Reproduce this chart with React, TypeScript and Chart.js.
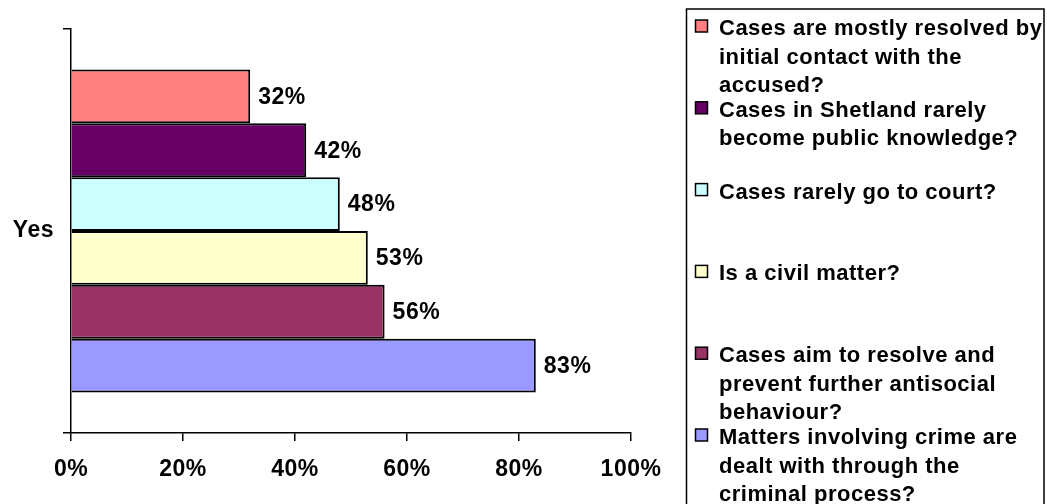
import React, { useEffect, useRef } from 'react';
import { Chart, registerables } from 'chart.js';

Chart.register(...registerables);

const categories = ['Yes'];
const seriesLabels: string[][] = [
  ['Cases are mostly resolved by', 'initial contact with the', 'accused?'],
  ['Cases in Shetland rarely', 'become public knowledge?'],
  ['Cases rarely go to court?'],
  ['Is a civil matter?'],
  ['Cases aim to resolve and', 'prevent further antisocial', 'behaviour?'],
  ['Matters involving crime are', 'dealt with through the', 'criminal process?'],
];
const seriesValues = [32, 42, 48, 53, 56, 83];
const seriesColors = ['#FF8080', '#660066', '#CCFFFF', '#FFFFCC', '#993366', '#9999FF'];
const xTicks = [0, 20, 40, 60, 80, 100];

const FONT = '"Liberation Sans", Arial, Helvetica, sans-serif';
const TICK_SIZE = 23;
const LABEL_SIZE = 23;
const LEGEND_SIZE = 22;
const SPACING = '0.5px';

const spacingPlugin = {
  id: 'spacing',
  beforeUpdate(chart: any) {
    chart.ctx.letterSpacing = SPACING;
  },
  beforeDraw(chart: any) {
    chart.ctx.letterSpacing = SPACING;
  },
};

const valueLabelPlugin = {
  id: 'valueLabels',
  afterDatasetsDraw(chart: any) {
    const ctx = chart.ctx;
    ctx.save();
    ctx.letterSpacing = SPACING;
    ctx.font = `bold ${LABEL_SIZE}px ${FONT}`;
    ctx.fillStyle = '#000';
    ctx.textAlign = 'left';
    ctx.textBaseline = 'middle';
    chart.data.datasets.forEach((ds: any, i: number) => {
      const meta = chart.getDatasetMeta(i);
      meta.data.forEach((el: any, j: number) => {
        ctx.fillText(`${ds.data[j]}%`, el.x + 8, el.y + 1);
      });
    });
    ctx.restore();
  },
};

const boxLegendPlugin = {
  id: 'boxLegend',
  afterDraw(chart: any) {
    const ctx = chart.ctx;
    ctx.save();
    ctx.letterSpacing = SPACING;
    ctx.strokeStyle = '#000';
    ctx.lineWidth = 1.5;
    ctx.strokeRect(686.5, 9, 357.5, 520);
    const boxX = 695.5;
    const textX = 719;
    const firstTop = 20;
    const pitch = 81.8;
    const lineH = 28.5;
    ctx.font = `bold ${LEGEND_SIZE}px ${FONT}`;
    ctx.textAlign = 'left';
    ctx.textBaseline = 'alphabetic';
    chart.data.datasets.forEach((ds: any, i: number) => {
      const top = firstTop + i * pitch;
      ctx.fillStyle = ds.backgroundColor;
      ctx.fillRect(boxX, top, 12, 12);
      ctx.lineWidth = 1.5;
      ctx.strokeStyle = '#000';
      ctx.strokeRect(boxX, top, 12, 12);
      ctx.fillStyle = '#000';
      const lines: string[] = seriesLabels[i];
      lines.forEach((ln, k) => {
        ctx.fillText(ln, textX, top + 15 + k * lineH);
      });
    });
    ctx.restore();
  },
};

export default function App() {
  const canvasRef = useRef<HTMLCanvasElement | null>(null);

  useEffect(() => {
    document.body.style.margin = '0';
    const canvas = canvasRef.current;
    if (!canvas) return;
    const chart = new Chart(canvas, {
      type: 'bar',
      data: {
        labels: categories,
        datasets: seriesValues.map((v, i) => ({
          label: seriesLabels[i].join(' '),
          data: [v],
          backgroundColor: seriesColors[i],
          borderColor: '#000',
          borderWidth: 2,
          barPercentage: 1,
          categoryPercentage: 0.8,
        })),
      },
      options: {
        indexAxis: 'y',
        responsive: false,
        animation: false,
        devicePixelRatio: 1,
        layout: { padding: { top: 29, right: 416, left: 0, bottom: 0 } },
        plugins: {
          legend: { display: false },
          tooltip: { enabled: false },
        },
        scales: {
          x: {
            type: 'linear',
            min: 0,
            max: 100,
            afterBuildTicks: (s: any) => {
              s.ticks = xTicks.map((v) => ({ value: v }));
            },
            afterFit: (s: any) => {
              s.height = 71;
            },
            grid: {
              drawOnChartArea: false,
              drawTicks: true,
              tickLength: 8,
              color: '#000',
              lineWidth: 1.5,
            },
            border: { display: true, color: '#000', width: 1.5 },
            ticks: {
              callback: (v: any) => `${v}%`,
              font: { family: FONT, size: TICK_SIZE, weight: 'bold' },
              color: '#000',
              padding: 15,
              maxRotation: 0,
              autoSkip: false,
            },
          },
          y: {
            type: 'category',
            afterFit: (s: any) => {
              s.width = 71;
            },
            grid: {
              drawOnChartArea: false,
              drawTicks: true,
              tickLength: 8,
              color: '#000',
              lineWidth: 1.5,
              offset: true,
            },
            border: { display: true, color: '#000', width: 1.5 },
            ticks: {
              font: { family: FONT, size: TICK_SIZE, weight: 'bold' },
              color: '#000',
              padding: 9,
            },
          },
        },
      } as any,
      plugins: [spacingPlugin, valueLabelPlugin, boxLegendPlugin],
    });
    return () => chart.destroy();
  }, []);

  return (
    <div style={{ position: 'fixed', left: 0, top: 0, width: 1047, height: 504, background: '#fff' }}>
      <canvas ref={canvasRef} width={1047} height={504} style={{ display: 'block', width: 1047, height: 504 }} />
    </div>
  );
}
